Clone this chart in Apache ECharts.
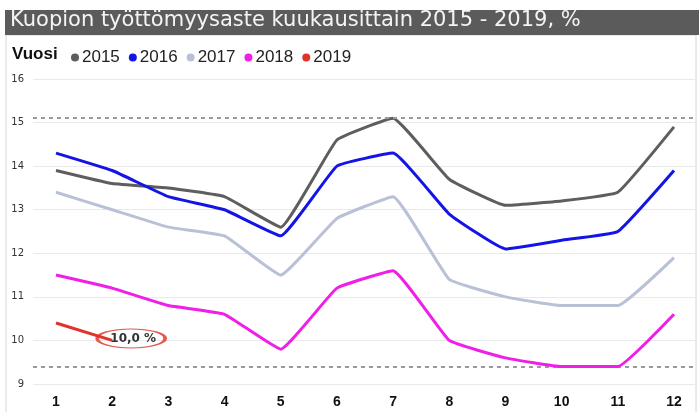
<!DOCTYPE html>
<html lang="fi">
<head>
    <meta charset="UTF-8">
    <title>Kuopion työttömyysaste</title>
    <script src="https://cdn.jsdelivr.net/npm/echarts@6/dist/echarts.min.js"></script>
    <style>
        * { margin: 0; padding: 0; }
        html, body { width: 100%; height: 100%; overflow: hidden; background: #fff; }
        .chart { width: 699px; height: 412px; }
    </style>
</head>
<body>
<div class="chart"></div>
<script>
    let months = ['1', '2', '3', '4', '5', '6', '7', '8', '9', '10', '11', '12'];
    let years = ['2015', '2016', '2017', '2018', '2019'];
    let colors = ['#5e5e5e', '#1414e6', '#b9c1d6', '#f01ee6', '#e0342a'];
    let v2015 = [13.9, 13.6, 13.5, 13.3, 12.6, 14.6, 15.1, 13.7, 13.1, 13.2, 13.4, 14.9];
    let v2016 = [14.3, 13.9, 13.3, 13.0, 12.4, 14.0, 14.3, 12.9, 12.1, 12.3, 12.5, 13.9];
    let v2017 = [13.4, 13.0, 12.6, 12.4, 11.5, 12.8, 13.3, 11.4, 11.0, 10.8, 10.8, 11.9];
    let v2018 = [11.5, 11.2, 10.8, 10.6, 9.8, 11.2, 11.6, 10.0, 9.6, 9.4, 9.4, 10.6];
    let v2019 = [10.4, 10.0];
    let refLines = [15.1, 9.4];
    let yMin = 9, yMax = 16;

    let values = [v2015, v2016, v2017, v2018, v2019];
    let chart = echarts.init(document.querySelector('.chart'));

    let series = years.map((year, i) => {
        let s = {
            name: year,
            type: 'line',
            xAxisIndex: 1,
            yAxisIndex: 1,
            data: values[i],
            smooth: 0.1,
            symbol: 'circle',
            showSymbol: false,
            lineStyle: { width: 3, color: colors[i] },
            itemStyle: { color: colors[i] },
            z: 3 + i
        };
        if (year == '2019') {
            let last = values[i].length - 1;
            s.markPoint = {
                symbol: 'circle',
                symbolSize: [68, 19],
                symbolOffset: [19, -2],
                itemStyle: { color: 'rgba(255,255,255,0)', borderColor: '#e35a50', borderWidth: 2 },
                label: {
                    show: true,
                    color: '#333',
                    fontFamily: 'DejaVu Sans',
                    fontWeight: 'bold',
                    fontSize: 12,
                    offset: [2, 0],
                    formatter: p => p.value.toFixed(1).replace('.', ',') + ' %'
                },
                data: [{ coord: [last, values[i][last]], value: values[i][last] }]
            };
        }
        return s;
    });

    // reference dashed lines across the full plot width
    series.push({
        type: 'line',
        xAxisIndex: 0,
        yAxisIndex: 0,
        data: [],
        silent: true,
        markLine: {
            symbol: 'none',
            silent: true,
            label: { show: false },
            lineStyle: { color: '#9a9a9a', type: [4, 4], width: 2 },
            data: refLines.map(v => ({ yAxis: v }))
        }
    });

    let option = {
        backgroundColor: '#fff',
        animation: false,
        graphic: [
            { type: 'rect', shape: { x: 6, y: 35, width: 690, height: 380 },
              style: { fill: 'none', stroke: '#d6d6d6', lineWidth: 1 }, z: 0 },
            { type: 'rect', shape: { x: 5, y: 10, width: 694, height: 25 },
              style: { fill: '#5b5b5b' }, z: 1 },
            { type: 'text', left: 12, top: 46,
              style: { text: 'Vuosi', fill: '#111', font: 'bold 17px "Liberation Sans", Arial' }, z: 2 }
        ],
        title: {
            text: 'Kuopion työttömyysaste kuukausittain 2015 - 2019, %',
            left: 8,
            top: 9,
            padding: [1, 2],
            textStyle: { color: '#f4f4f4', fontSize: 21, fontWeight: 'normal', fontFamily: 'DejaVu Sans' },
            z: 3
        },
        legend: {
            data: years,
            left: 66,
            top: 44,
            icon: 'circle',
            itemWidth: 8,
            itemHeight: 8,
            itemGap: 9,
            textStyle: { fontSize: 17, color: '#222', fontFamily: 'Liberation Sans, Arial', padding: [0, 0, 0, -2] }
        },
        grid: [
            { left: 33, right: 4, top: 79, bottom: 28 },
            { left: 56, right: 25, top: 79, bottom: 28 }
        ],
        xAxis: [
            { type: 'category', gridIndex: 0, data: months, boundaryGap: false, show: false },
            {
                type: 'category', gridIndex: 1, data: months, boundaryGap: false,
                axisLine: { show: false },
                axisTick: { show: false },
                axisLabel: { color: '#111', fontWeight: 'bold', fontSize: 14, margin: 11,
                             fontFamily: 'Liberation Sans, Arial' }
            }
        ],
        yAxis: [
            {
                type: 'value', gridIndex: 0, min: yMin, max: yMax, interval: 1,
                axisLine: { show: false },
                axisTick: { show: false },
                axisLabel: { color: '#333', fontSize: 10, margin: 9, fontFamily: 'DejaVu Sans' },
                splitLine: { lineStyle: { color: '#e9e9e9', width: 1 } }
            },
            { type: 'value', gridIndex: 1, min: yMin, max: yMax, interval: 1, show: false,
              splitLine: { show: false } }
        ],
        series
    };
    chart.setOption(option);
</script>
</body>
</html>
